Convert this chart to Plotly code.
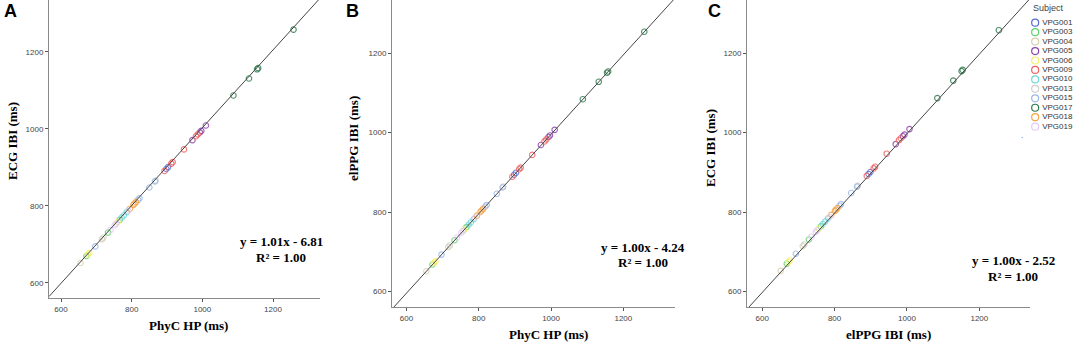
import plotly.graph_objects as go

W, H = 1073, 356

subjects = ["VPG001", "VPG003", "VPG004", "VPG005", "VPG006", "VPG009",
            "VPG010", "VPG013", "VPG015", "VPG017", "VPG018", "VPG019"]
colors = ["#5b6fd0", "#5fd36a", "#d8d0b0", "#8e44ad", "#f5ee6a", "#f06262",
          "#6fd8d8", "#d0d0d0", "#9ab8e8", "#2e7d4f", "#f8a548", "#e2ccf5"]

# per-subject values (ms)
phyc_hp = {
    "VPG001": [898, 903],
    "VPG003": [672, 733, 766],
    "VPG004": [655, 716],
    "VPG005": [972, 993, 997, 1010],
    "VPG006": [676, 680, 760],
    "VPG009": [893, 912, 916, 948, 982, 987],
    "VPG010": [772, 778, 786],
    "VPG013": [720, 868],
    "VPG015": [697, 818, 822, 850, 866],
    "VPG017": [1088, 1132, 1155, 1158, 1258],
    "VPG018": [795, 805, 808, 812],
    "VPG019": [740, 752, 756, 790],
}
elppg_ibi = {
    "VPG001": [894, 899],
    "VPG003": [668, 729, 762],
    "VPG004": [651, 712],
    "VPG005": [969, 989, 993, 1007],
    "VPG006": [672, 676, 756],
    "VPG009": [889, 908, 912, 944, 978, 983],
    "VPG010": [768, 774, 782],
    "VPG013": [716, 864],
    "VPG015": [693, 814, 818, 846, 862],
    "VPG017": [1084, 1128, 1151, 1154, 1254],
    "VPG018": [791, 801, 804, 808],
    "VPG019": [736, 748, 752, 786],
}
ecg_ibi = {
    "VPG001": [896, 901],
    "VPG003": [670, 731, 764],
    "VPG004": [652, 714],
    "VPG005": [971, 991, 995, 1009],
    "VPG006": [674, 678, 758],
    "VPG009": [891, 910, 914, 947, 981, 986],
    "VPG010": [770, 776, 784],
    "VPG013": [718, 866],
    "VPG015": [695, 816, 820, 848, 864],
    "VPG017": [1087, 1131, 1155, 1158, 1258],
    "VPG018": [793, 803, 806, 810],
    "VPG019": [738, 750, 754, 788],
}

# fit lines: (slope, intercept)
fits = [(1.01, -6.81), (1.00, -4.24), (1.00, -2.52)]
eq_labels = ["y = 1.01x - 6.81", "y = 1.00x - 4.24", "y = 1.00x - 2.52"]
r2_label = "R² = 1.00"
x_titles = ["PhyC HP (ms)", "PhyC HP (ms)", "elPPG IBI (ms)"]
y_titles = ["ECG IBI (ms)", "elPPG IBI (ms)", "ECG IBI (ms)"]
panel_letters = ["A", "B", "C"]
tick_vals = [600, 800, 1000, 1200]

panels = [(phyc_hp, ecg_ibi), (phyc_hp, elppg_ibi), (elppg_ibi, ecg_ibi)]

xranges = [[566, 1333], [560, 1343], [558, 1340]]
yranges = [[561, 1335], [561, 1334], [561, 1334]]
xdomains = [[49 / W, 320 / W], [392 / W, 675 / W], [747 / W, 1030 / W]]
ydomains = [[1 - 298 / H, 1.0], [1 - 307 / H, 1.0], [1 - 307 / H, 1.0]]

fig = go.Figure()

for p, (xd, yd) in enumerate(panels):
    xa = "x" if p == 0 else f"x{p+1}"
    ya = "y" if p == 0 else f"y{p+1}"
    for s, c in zip(subjects, colors):
        fig.add_trace(go.Scatter(
            x=xd[s], y=yd[s], mode="markers", xaxis=xa, yaxis=ya,
            marker=dict(symbol="circle-open", size=5.5, color=c, opacity=0.85,
                        line=dict(width=1.1)),
            showlegend=False, hoverinfo="skip"))
    a, b = fits[p]
    x0, x1 = xranges[p]
    fig.add_trace(go.Scatter(
        x=[x0, x1], y=[a * x0 + b, a * x1 + b], mode="lines", xaxis=xa, yaxis=ya,
        line=dict(color="#444444", width=1), showlegend=False, hoverinfo="skip"))

# legend as its own small subplot
leg_idx = list(range(len(subjects)))
fig.add_trace(go.Scatter(
    x=[0.12] * len(subjects), y=leg_idx, mode="markers+text", xaxis="x4", yaxis="y4",
    marker=dict(symbol="circle-open", size=7, color=colors, line=dict(width=1.2)),
    text=["\u2009" + s for s in subjects], textposition="middle right",
    textfont=dict(family="Liberation Sans, Arial", size=8, color="#333333"),
    showlegend=False, hoverinfo="skip", cliponaxis=False))

layout = dict(
    width=W, height=H, margin=dict(l=0, r=0, t=0, b=0),
    paper_bgcolor="white", plot_bgcolor="white", showlegend=False,
    font=dict(family="Liberation Sans, Arial", size=8, color="#444444"),
)

axis_common = dict(showgrid=False, zeroline=False, showline=True, linecolor="#8a8a8a",
                   linewidth=1, ticks="outside", ticklen=3, tickcolor="#555555",
                   tickvals=tick_vals, tickfont=dict(size=8, color="#444444"))
for p in range(3):
    xn = "xaxis" if p == 0 else f"xaxis{p+1}"
    yn = "yaxis" if p == 0 else f"yaxis{p+1}"
    ya = "y" if p == 0 else f"y{p+1}"
    xa = "x" if p == 0 else f"x{p+1}"
    layout[xn] = dict(axis_common, domain=xdomains[p], range=xranges[p], anchor=ya)
    layout[yn] = dict(axis_common, domain=ydomains[p], range=yranges[p], anchor=xa)

layout["xaxis4"] = dict(domain=[1030 / W, 1.0], range=[0, 1], visible=False, anchor="y4")
layout["yaxis4"] = dict(domain=[0, 1], range=[35.27, -2.402], visible=False, anchor="x4")

fig.update_layout(**layout)

serif = "Liberation Serif, Times New Roman"
ann = []
eq_pos = [(281, 241, 257), (643, 247, 262), (1013, 260, 276)]
xt_pos = [(188, 325), (548, 334), (888, 334)]
yt_pos = [(12, 141), (353, 139), (710, 148)]
letter_x = [10, 352, 714]
for p in range(3):
    ex, ey1, ey2 = eq_pos[p]
    ann.append(dict(x=ex / W, y=1 - ey1 / H, xref="paper", yref="paper", text=f"<b>{eq_labels[p]}</b>",
                    showarrow=False, font=dict(family=serif, size=13, color="black"),
                    xanchor="center", yanchor="middle"))
    ann.append(dict(x=ex / W, y=1 - ey2 / H, xref="paper", yref="paper", text=f"<b>{r2_label}</b>",
                    showarrow=False, font=dict(family=serif, size=13, color="black"),
                    xanchor="center", yanchor="middle"))
    tx, ty = xt_pos[p]
    ann.append(dict(x=tx / W, y=1 - ty / H, xref="paper", yref="paper", text=f"<b>{x_titles[p]}</b>",
                    showarrow=False, font=dict(family=serif, size=13, color="black"),
                    xanchor="center", yanchor="middle"))
    vx, vy = yt_pos[p]
    ann.append(dict(x=vx / W, y=1 - vy / H, xref="paper", yref="paper", text=f"<b>{y_titles[p]}</b>",
                    showarrow=False, font=dict(family=serif, size=13, color="black"),
                    textangle=-90, xanchor="center", yanchor="middle"))
    ann.append(dict(x=letter_x[p] / W, y=1 - 11 / H, xref="paper", yref="paper", text=f"<b>{panel_letters[p]}</b>",
                    showarrow=False, font=dict(family="Liberation Sans, Arial", size=18, color="black"),
                    xanchor="center", yanchor="middle"))

ann.append(dict(x=1048 / W, y=1 - 8 / H, xref="paper", yref="paper", text="Subject",
                showarrow=False, font=dict(family="Liberation Sans, Arial", size=9, color="#444444"),
                xanchor="center", yanchor="middle"))
ann.append(dict(x=1022 / W, y=1 - 135 / H, xref="paper", yref="paper", text=".",
                showarrow=False, font=dict(family="Liberation Sans, Arial", size=8, color="#444444"),
                xanchor="center", yanchor="middle"))
fig.update_layout(annotations=ann)

fig.write_html("out.html", config={"displayModeBar": False, "staticPlot": True},
               post_script="document.body.style.margin='0';document.body.style.overflow='hidden';")
